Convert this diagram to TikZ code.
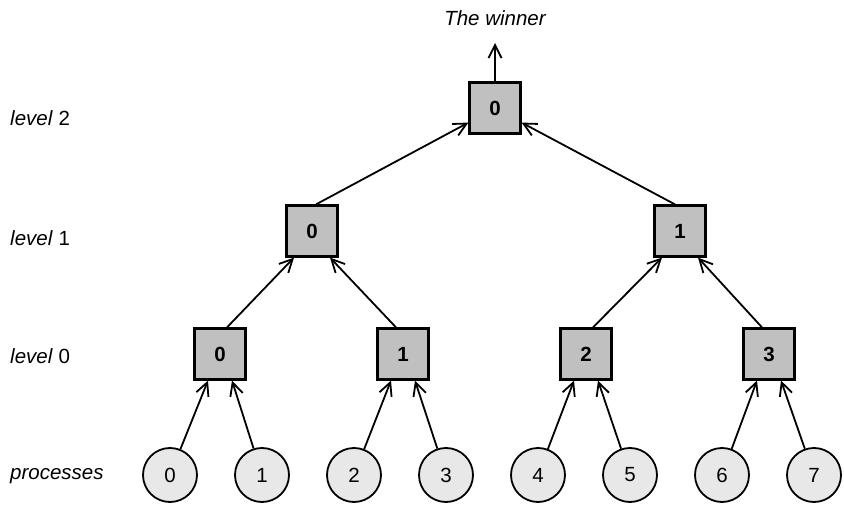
\documentclass[tikz,border=0pt]{standalone}
\usepackage{fontspec}
\setmainfont{Liberation Sans}
\usetikzlibrary{arrows.meta}
\definecolor{boxgray}{HTML}{C0C0C0}
\definecolor{circgray}{HTML}{E8E8E8}
\begin{document}
\begin{tikzpicture}[x=1pt,y=-1pt,
  every node/.style={font=\fontsize{20.5}{23}\selectfont},
  tbox/.style={draw=black, line width=2.2pt, fill=boxgray, minimum width=51pt, minimum height=51pt, inner sep=0pt, font=\fontsize{20.5}{23}\selectfont\bfseries},
  proc/.style={draw=black, line width=1.8pt, fill=circgray, circle, minimum size=54pt, inner sep=0pt},
  lab/.style={anchor=west, inner sep=0pt},
  arr/.style={line width=1.8pt, -{Straight Barb[length=13pt,width=13pt,line width=1.8pt]}}
]
\useasboundingbox (0,0) rectangle (844,505);

% labels
\node[lab] (l2) at (10,118) {\itshape level\/\upshape\ 2};
\node[lab] (l1) at (10,238) {\itshape level\/\upshape\ 1};
\node[lab] (l0) at (10,356) {\itshape level\/\upshape\ 0};
\node[lab] (lp) at (10,476) {\itshape processes};

% processes
\foreach \i in {0,...,7} {
  \node[proc] (c\i) at (170+92*\i,475) {\i};
}

% level 0
\node[tbox] (a0) at (220,354) {0};
\node[tbox] (a1) at (403,354) {1};
\node[tbox] (a2) at (586,354) {2};
\node[tbox] (a3) at (769,354) {3};

% level 1
\node[tbox] (b0) at (312,231) {0};
\node[tbox] (b1) at (680,231) {1};

% level 2
\node[tbox] (r) at (495,108) {0};
\coordinate (win) at (495,43);
\node (wt) at (495,18) {\itshape The winner};

% process arrows
\foreach \i/\p in {0/a0,2/a1,4/a2,6/a3} {
  \draw[arr] (c\i) -- ([xshift=-12pt]\p.south);
}
\foreach \i/\p in {1/a0,3/a1,5/a2,7/a3} {
  \draw[arr] (c\i) -- ([xshift=12pt]\p.south);
}

% level 0 -> level 1
\draw[arr] ([xshift=7pt]a0.north) -- ([xshift=-18pt]b0.south);
\draw[arr] ([xshift=-7pt]a1.north) -- ([xshift=18pt]b0.south);
\draw[arr] ([xshift=7pt]a2.north) -- ([xshift=-18pt]b1.south);
\draw[arr] ([xshift=-7pt]a3.north) -- ([xshift=18pt]b1.south);

% level 1 -> level 2
\draw[arr] ([xshift=4pt]b0.north) -- ([yshift=12pt]r.south west);
\draw[arr] ([xshift=-5pt]b1.north) -- ([yshift=12pt]r.south east);

% winner
\draw[arr] (r.north) -- (win);
\end{tikzpicture}
\end{document}
